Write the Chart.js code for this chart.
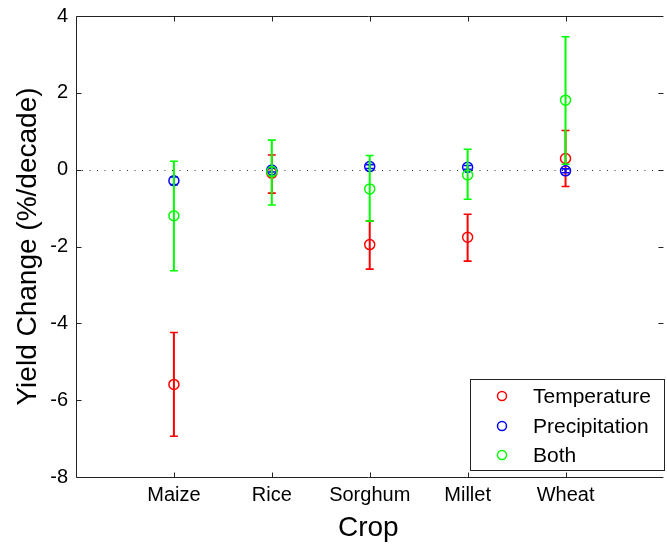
<!DOCTYPE html>
<html>
<head>
<meta charset="utf-8">
<script src="https://cdn.jsdelivr.net/npm/chart.js@4.4.1/dist/chart.umd.min.js"></script>
<style>
html,body{margin:0;padding:0;background:#fff;}
#wrap{width:667px;height:546px;position:relative;}
</style>
</head>
<body>
<div id="wrap"><canvas id="c" width="667" height="546"></canvas></div>
<script>
const crops = ["Maize", "Rice", "Sorghum", "Millet", "Wheat"];
const yTicks = [-8, -6, -4, -2, 0, 2, 4];

const tempMean = [-5.59, -0.09, -1.95, -1.76, 0.29];
const tempLow  = [-6.94, -0.61, -2.59, -2.38, -0.44];
const tempHigh = [-4.24, 0.38, -1.33, -1.16, 1.02];

const precMean = [-0.29, -0.01, 0.08, 0.06, -0.03];
const precLow  = [-0.39, -0.06, 0.03, 0.01, -0.08];
const precHigh = [-0.19, 0.04, 0.13, 0.11, 0.02];

const bothMean = [-1.20, -0.05, -0.50, -0.14, 1.81];
const bothLow  = [-2.63, -0.92, -1.34, -0.77, 0.14];
const bothHigh = [0.22, 0.77, 0.37, 0.53, 3.46];

const seriesNames = ["Temperature", "Precipitation", "Both"];
const seriesColors = ["#ff0000", "#0000ff", "#00ff00"];

function pts(mean, low, high) {
  return mean.map((v, i) => ({ x: i + 1, y: v, lo: low[i], hi: high[i] }));
}

const FONT = "'Liberation Sans', Arial, Helvetica, sans-serif";

const datasets = [
  { label: seriesNames[0], data: pts(tempMean, tempLow, tempHigh), order: 3 },
  { label: seriesNames[1], data: pts(precMean, precLow, precHigh), order: 2 },
  { label: seriesNames[2], data: pts(bothMean, bothLow, bothHigh), order: 1 }
].map((d, i) => Object.assign(d, {
  borderColor: seriesColors[i],
  backgroundColor: 'rgba(0,0,0,0)',
  pointRadius: 5,
  pointBorderWidth: 1.5,
  pointHoverRadius: 5,
  showLine: false
}));

const framePlugin = {
  id: 'frame',
  beforeDatasetsDraw(chart) {
    const { ctx, chartArea: a, scales: { x, y } } = chart;
    ctx.save();
    const y0 = Math.round(y.getPixelForValue(0)) + 0.5;
    ctx.strokeStyle = '#333';
    ctx.lineWidth = 1;
    ctx.setLineDash([1, 6.5]);
    ctx.beginPath();
    ctx.moveTo(a.left + 6, y0);
    ctx.lineTo(a.right, y0);
    ctx.stroke();
    ctx.restore();
  },
  beforeDatasetDraw(chart, args) {
    const { ctx, scales: { x, y } } = chart;
    const ds = chart.data.datasets[args.index];
    ctx.save();
    ctx.strokeStyle = ds.borderColor;
    ds.data.forEach(p => {
      const px = x.getPixelForValue(p.x);
      const pl = y.getPixelForValue(p.lo);
      const ph = y.getPixelForValue(p.hi);
      ctx.lineWidth = 2;
      ctx.beginPath();
      ctx.moveTo(px, pl);
      ctx.lineTo(px, ph);
      ctx.stroke();
      ctx.lineWidth = 1.6;
      ctx.beginPath();
      ctx.moveTo(px - 4, pl); ctx.lineTo(px + 4, pl);
      ctx.moveTo(px - 4, ph); ctx.lineTo(px + 4, ph);
      ctx.stroke();
    });
    ctx.restore();
  },
  afterDraw(chart) {
    const { ctx, chartArea: a, scales: { x, y } } = chart;
    ctx.save();
    ctx.strokeStyle = '#222';
    ctx.lineWidth = 1;
    const L = Math.round(a.left) + 0.5, T = Math.round(a.top) + 0.5, B = Math.round(a.bottom) + 0.5;
    const xR = x.getPixelForValue(6);
    ctx.beginPath();
    ctx.moveTo(L, B); ctx.lineTo(L, T); ctx.lineTo(a.right, T);
    ctx.moveTo(L, B); ctx.lineTo(a.right, B);
    yTicks.forEach(v => {
      const py = Math.round(y.getPixelForValue(v)) + 0.5;
      ctx.moveTo(L, py); ctx.lineTo(L + 5, py);
      ctx.moveTo(xR, py); ctx.lineTo(xR - 5, py);
    });
    crops.forEach((c, i) => {
      const px = Math.round(x.getPixelForValue(i + 1)) + 0.5;
      ctx.moveTo(px, T); ctx.lineTo(px, T + 5);
      ctx.moveTo(px, B); ctx.lineTo(px, B - 5);
    });
    ctx.stroke();

    const lx = 470.5, ly = 379.5, lw = 194, lh = 91;
    ctx.fillStyle = '#fff';
    ctx.fillRect(lx, ly, lw, lh);
    ctx.strokeStyle = '#222';
    ctx.strokeRect(lx, ly, lw, lh);
    ctx.font = '21px ' + FONT;
    ctx.textBaseline = 'middle';
    ctx.textAlign = 'left';
    const rows = [396, 426, 455];
    seriesNames.forEach((n, i) => {
      ctx.strokeStyle = seriesColors[i];
      ctx.lineWidth = 1.5;
      ctx.beginPath();
      ctx.arc(502, rows[i], 4.5, 0, Math.PI * 2);
      ctx.stroke();
      ctx.fillStyle = '#000';
      ctx.fillText(n, 533, rows[i] + 1);
    });
    ctx.restore();
  }
};

new Chart(document.getElementById('c'), {
  type: 'scatter',
  data: { datasets },
  plugins: [framePlugin],
  options: {
    responsive: false,
    animation: false,
    events: [],
    layout: { padding: { top: 16, left: 0, right: 0, bottom: 0 } },
    plugins: { legend: { display: false }, tooltip: { enabled: false } },
    scales: {
      x: {
        type: 'linear',
        min: 0,
        max: 5.97,
        grid: { display: false, drawTicks: false },
        border: { display: false },
        afterBuildTicks(s) { s.ticks = crops.map((c, i) => ({ value: i + 1 })); },
        afterFit(s) { s.height = 69; s.paddingLeft = 0; s.paddingRight = 0; },
        ticks: {
          color: '#000',
          padding: 6,
          maxRotation: 0,
          autoSkip: false,
          font: { family: FONT, size: 20 },
          callback: (v) => crops[v - 1] || ''
        },
        title: {
          display: true,
          text: 'Crop',
          color: '#000',
          padding: { top: 0, bottom: 1 },
          font: { family: FONT, size: 28 }
        }
      },
      y: {
        min: -8,
        max: 4,
        grid: { display: false, drawTicks: false },
        border: { display: false },
        afterBuildTicks(s) { s.ticks = yTicks.map(v => ({ value: v })); },
        afterFit(s) { s.width = 76; s.paddingTop = 0; s.paddingBottom = 0; },
        ticks: {
          color: '#000',
          padding: 8,
          font: { family: FONT, size: 20 }
        },
        title: {
          display: true,
          text: 'Yield Change (%/decade)',
          color: '#000',
          padding: { top: 11, bottom: 0 },
          font: { family: FONT, size: 28 }
        }
      }
    }
  }
});
</script>
</body>
</html>
